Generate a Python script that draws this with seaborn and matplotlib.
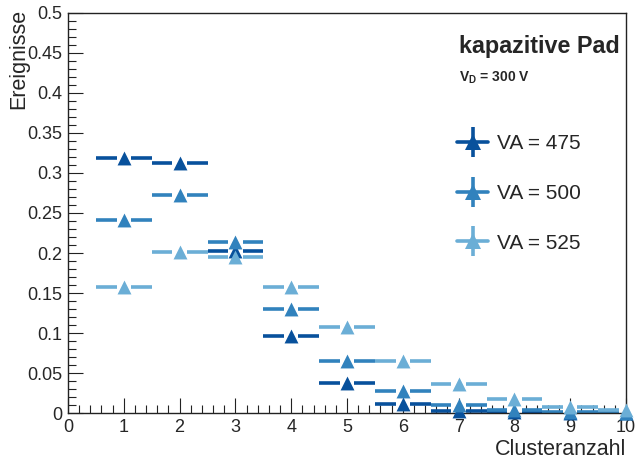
import numpy as np
import pandas as pd
import matplotlib
matplotlib.use("Agg")
import matplotlib.pyplot as plt
import seaborn as sns
from matplotlib.lines import Line2D
from matplotlib.legend_handler import HandlerTuple
from matplotlib.ticker import MultipleLocator, FuncFormatter

# Cluster multiplicity (bin centres) and normalised event fractions per VA setting
clusters = [1, 2, 3, 4, 5, 6, 7, 8, 9, 10]
va_475 = [0.319, 0.3125, 0.2025, 0.096, 0.0375, 0.011, 0.003, 0.001, 0.0005, 0.0002]
va_500 = [0.241, 0.273, 0.214, 0.130, 0.0655, 0.028, 0.010, 0.004, 0.0012, 0.0004]
va_525 = [0.158, 0.201, 0.195, 0.157, 0.108, 0.0655, 0.036, 0.018, 0.0075, 0.004]
series_labels = ["VA = 475", "VA = 500", "VA = 525"]
series_colors = ["#08519c", "#3182bd", "#6baed6"]

df = pd.concat([
    pd.DataFrame({"Clusteranzahl": clusters, "Ereignisse": vals, "VA": lab})
    for vals, lab in zip([va_475, va_500, va_525], series_labels)
], ignore_index=True)

sns.set_theme(style="white")
plt.rcParams["font.family"] = ["Liberation Sans", "DejaVu Sans"]
plt.rcParams["mathtext.fontset"] = "custom"
plt.rcParams["mathtext.bf"] = "Liberation Sans:bold"
plt.rcParams["mathtext.rm"] = "Liberation Sans"

fig = plt.figure(figsize=(6.38, 4.59), dpi=100)
ax = fig.add_axes([68 / 638, 1 - 413 / 459, 558 / 638, 400 / 459])

palette = dict(zip(series_labels, series_colors))
half_width = 0.5
gap = 0.13

# horizontal bin-width bars with a gap around each marker
for lab in series_labels:
    sub = df[df["VA"] == lab]
    x = sub["Clusteranzahl"].to_numpy(float)
    y = sub["Ereignisse"].to_numpy(float)
    ax.hlines(y, x - half_width, x - gap, color=palette[lab], lw=2.6, zorder=2)
    ax.hlines(y, x + gap, x + half_width, color=palette[lab], lw=2.6, zorder=2)
    sns.scatterplot(data=sub, x="Clusteranzahl", y="Ereignisse", color=palette[lab],
                    marker="^", s=100, linewidth=0, ax=ax, zorder=3, legend=False,
                    clip_on=False)

ax.set_xlim(0, 10)
ax.set_ylim(0, 0.5)
ax.xaxis.set_major_locator(MultipleLocator(1))
ax.xaxis.set_minor_locator(MultipleLocator(0.2))
ax.yaxis.set_major_locator(MultipleLocator(0.05))
ax.yaxis.set_minor_locator(MultipleLocator(0.01))
ax.xaxis.set_major_formatter(FuncFormatter(lambda v, p: f"{v:g}"))
ax.yaxis.set_major_formatter(FuncFormatter(lambda v, p: f"{v:g}"))

ax.tick_params(axis="both", which="both", direction="in", top=False, right=False,
               bottom=True, left=True, color="#222222", labelsize=13, width=0.8)
ax.tick_params(axis="both", which="major", length=11)
ax.tick_params(axis="both", which="minor", length=5.5)
ax.tick_params(axis="x", which="major", pad=4)
ax.tick_params(axis="y", which="major", pad=4)

for sp in ax.spines.values():
    sp.set_color("#222222")
    sp.set_linewidth(1.0)

ax.set_xlabel("Clusteranzahl", fontsize=15.5, loc="right")
ax.xaxis.set_label_coords(1.0, -0.066)
ax.set_ylabel("Ereignisse", fontsize=15.5, loc="top")
ax.yaxis.set_label_coords(-0.07, 1.01)

ax.text(459 / 638, 1 - 46 / 459, "kapazitive Pad", transform=fig.transFigure,
        fontsize=16.8, fontweight="bold", ha="left", va="center")
ax.text(459 / 638, 1 - 78 / 459, r"$\mathbf{V_{D}}$ = 300 V", transform=fig.transFigure,
        fontsize=10, fontweight="bold", ha="left", va="center")

handles = []
for col in series_colors:
    h_line = Line2D([], [], color=col, lw=2.6, marker="^", markersize=11, markeredgewidth=0)
    v_line = Line2D([], [], color=col, lw=0, marker="|", markersize=21, markeredgewidth=2.6)
    handles.append((h_line, v_line))

ax.legend(handles, series_labels, handler_map={tuple: HandlerTuple(ndivide=1, pad=0)},
          loc="upper left", bbox_to_anchor=(447 / 638, 1 - 124 / 459),
          bbox_transform=fig.transFigure, frameon=False, fontsize=15,
          handlelength=1.45, labelspacing=1.47, handletextpad=0.45, borderpad=0)

fig.savefig("out.png", dpi=100)
